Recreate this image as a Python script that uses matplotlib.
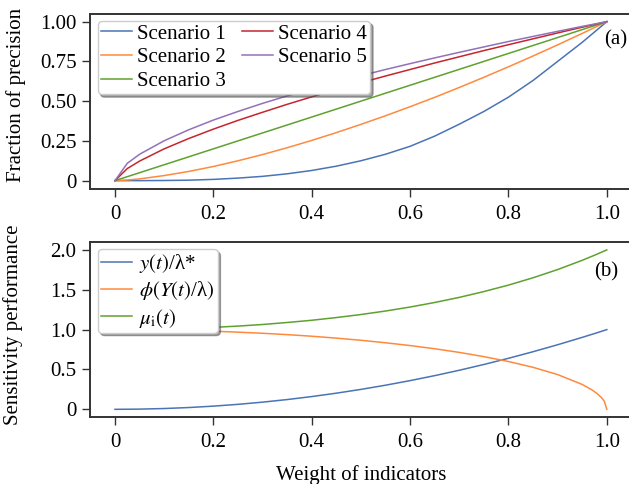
import numpy as np
import matplotlib.pyplot as plt

plt.rcParams['font.family'] = ['Liberation Serif', 'DejaVu Serif']
plt.rcParams['mathtext.fontset'] = 'stix'

# panel (a): fraction of precision vs weight
x_top = [0, 0.025, 0.05, 0.1, 0.15, 0.2, 0.25, 0.3, 0.35, 0.4, 0.45, 0.5,
         0.55, 0.6, 0.65, 0.7, 0.75, 0.8, 0.85, 0.9, 0.95, 1.0]
scen1 = [0, 0, 0, 0.001, 0.003, 0.008, 0.016, 0.027, 0.043, 0.064, 0.091, 0.125,
         0.166, 0.216, 0.280, 0.355, 0.435, 0.525, 0.630, 0.750, 0.870, 1.0]
scen2 = [0, 0.004, 0.011, 0.032, 0.058, 0.089, 0.125, 0.164, 0.207, 0.253, 0.302, 0.354,
         0.408, 0.465, 0.524, 0.586, 0.650, 0.716, 0.784, 0.854, 0.926, 1.0]
scen3 = [0, 0.025, 0.05, 0.1, 0.15, 0.2, 0.25, 0.3, 0.35, 0.4, 0.45, 0.5,
         0.55, 0.6, 0.65, 0.7, 0.75, 0.8, 0.85, 0.9, 0.95, 1.0]
scen4 = [0, 0.076, 0.123, 0.200, 0.265, 0.324, 0.379, 0.430, 0.480, 0.527, 0.572, 0.616,
         0.658, 0.699, 0.740, 0.779, 0.818, 0.855, 0.892, 0.929, 0.965, 1.0]
scen5 = [0, 0.109, 0.166, 0.251, 0.320, 0.381, 0.435, 0.486, 0.533, 0.577, 0.619, 0.660,
         0.699, 0.736, 0.772, 0.807, 0.841, 0.875, 0.907, 0.939, 0.970, 1.0]
top_labels = ['Scenario 1', 'Scenario 2', 'Scenario 3', 'Scenario 4', 'Scenario 5']

# panel (b): sensitivity performance
x_bot = [0, 0.05, 0.1, 0.15, 0.2, 0.25, 0.3, 0.35, 0.4, 0.45, 0.5, 0.55, 0.6,
         0.65, 0.7, 0.75, 0.8, 0.85, 0.9, 0.95, 0.97, 0.98, 0.99, 0.995, 1.0]
y_lam = [0, 0.0025, 0.01, 0.0225, 0.04, 0.0625, 0.09, 0.1225, 0.16, 0.2025, 0.25, 0.3025, 0.36,
         0.4225, 0.49, 0.5625, 0.64, 0.7225, 0.81, 0.9025, 0.941, 0.960, 0.980, 0.990, 1.0]
phi = [1.0, 0.999, 0.995, 0.989, 0.980, 0.968, 0.954, 0.937, 0.917, 0.893, 0.866, 0.835, 0.800,
       0.760, 0.714, 0.661, 0.600, 0.527, 0.436, 0.312, 0.243, 0.199, 0.141, 0.100, 0.0]
mu = [1.0, 1.002, 1.007, 1.016, 1.028, 1.044, 1.064, 1.089, 1.117, 1.151, 1.189, 1.233, 1.283,
      1.340, 1.404, 1.477, 1.558, 1.650, 1.753, 1.869, 1.920, 1.946, 1.973, 1.986, 2.0]
bot_labels = [r'$y(t)$/λ*', r'$\phi(Y(t)$/λ$)$', r'$\mu_{\mathrm{i}}(t)$']

colors = ['#4a74b4', '#ff8a3d', '#5fa12e', '#c4262e', '#9470b8']

W, H = 629, 484
fig = plt.figure(figsize=(W / 100, H / 100), dpi=100)
ax1 = fig.add_axes([90.4 / W, 1 - 188.6 / H, 541 / W, 174.9 / H])
ax2 = fig.add_axes([90.4 / W, 1 - 417.3 / H, 541 / W, 175.4 / H])

for ys, lab, c in zip([scen1, scen2, scen3, scen4, scen5], top_labels, colors):
    ax1.plot(x_top, ys, color=c, lw=1.1, label=lab)
for ys, lab, c in zip([y_lam, phi, mu], bot_labels, colors[:3]):
    ax2.plot(x_bot, ys, color=c, lw=1.1, label=lab)

ax1.set_xlim(-0.05, 1.05)
ax1.set_ylim(-0.05, 1.05)
ax2.set_xlim(-0.05, 1.05)
ax2.set_ylim(-0.1, 2.1)

xt = [0, 0.2, 0.4, 0.6, 0.8, 1.0]
for ax in (ax1, ax2):
    ax.set_xticks(xt)
    ax.set_xticklabels(['0', '0.2', '0.4', '0.6', '0.8', '1.0'])
    for s in ax.spines.values():
        s.set_color('#333333')
        s.set_linewidth(1.4)
    ax.tick_params(labelsize=15, length=5.5, width=1.0, color='#333333')
    ax.tick_params(axis='x', pad=6)
    ax.tick_params(axis='y', pad=4.5)

ax1.set_yticks([0, 0.25, 0.5, 0.75, 1.0])
ax1.set_yticklabels(['0', '0.25', '0.50', '0.75', '1.00'])
ax2.set_yticks([0, 0.5, 1.0, 1.5, 2.0])
ax2.set_yticklabels(['0', '0.5', '1.0', '1.5', '2.0'])

ax1.set_ylabel('Fraction of precision', fontsize=15)
ax2.set_ylabel('Sensitivity performance', fontsize=15)
ax1.yaxis.set_label_coords(-0.119, 0.535)
ax2.yaxis.set_label_coords(-0.124, 0.527)
ax2.set_xlabel('Weight of indicators', fontsize=15, labelpad=9)

leg_kw = dict(loc='upper left', fontsize=15, shadow=True, fancybox=True, framealpha=1,
              handlelength=1.5, borderpad=0.15, labelspacing=0.2, borderaxespad=0.35)
ax1.legend(ncol=2, columnspacing=0.75, handletextpad=0.25, **leg_kw)
ax2.legend(handletextpad=0.35, **leg_kw)

ax1.text(0.992, 0.85, '(a)', transform=ax1.transAxes, fontsize=15, ha='right', va='center')
ax2.text(0.975, 0.831, '(b)', transform=ax2.transAxes, fontsize=15, ha='right', va='center')

fig.savefig('out.png', dpi=100)
